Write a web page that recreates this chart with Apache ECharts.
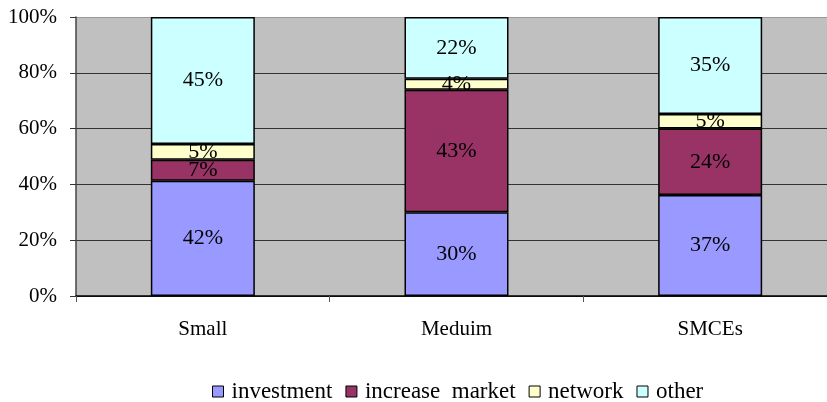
<!DOCTYPE html>
<html>
<head>
<meta charset="utf-8">
<script src="https://cdn.jsdelivr.net/npm/echarts@6/dist/echarts.min.js"></script>
<style>html,body{margin:0;padding:0;background:#fff;}#c{width:827px;height:402px;}</style>
</head>
<body>
<div id="c"></div>
<script>
const categories = ['Small', 'Meduim', 'SMCEs'];
const seriesNames = ['investment', 'increase  market', 'network', 'other'];
const investment = [41.3, 30.0, 36.2];
const increaseMarket = [7.5, 43.9, 23.8];
const network = [5.7, 4.0, 5.2];
const other = [45.5, 22.1, 34.8];
const investmentLabels = ['42%', '30%', '37%'];
const increaseMarketLabels = ['7%', '43%', '24%'];
const networkLabels = ['5%', '4%', '5%'];
const otherLabels = ['45%', '22%', '35%'];
const yTicks = [0, 20, 40, 60, 80, 100];

const colors = ['#9999FF', '#993366', '#FFFFCC', '#CCFFFF'];
const values = [investment, increaseMarket, network, other];
const labels = [investmentLabels, increaseMarketLabels, networkLabels, otherLabels];
const font = 'Liberation Serif, Times New Roman, serif';

const chart = echarts.init(document.getElementById('c'), null, {renderer: 'canvas'});
chart.setOption({
  animation: false,
  color: colors,
  grid: {
    left: 76, width: 761, top: 17, height: 279,
    containLabel: false, outerBoundsMode: 'none',
    show: true, backgroundColor: '#C0C0C0', borderWidth: 0
  },
  legend: {
    left: 207, top: 375,
    itemWidth: 11, itemHeight: 11, itemGap: 13,
    icon: 'rect',
    itemStyle: {borderColor: '#000', borderWidth: 1},
    textStyle: {fontFamily: font, fontSize: 23, color: '#000', padding: [0, 0, 0, 3]},
    data: seriesNames
  },
  xAxis: {
    type: 'category',
    data: categories,
    axisLine: {lineStyle: {color: '#000', width: 1.5}},
    axisTick: {show: true, length: 6, lineStyle: {color: '#555'}},
    axisLabel: {fontFamily: font, fontSize: 21, color: '#000', margin: 23}
  },
  yAxis: {
    type: 'value',
    min: yTicks[0], max: yTicks[yTicks.length - 1], interval: 20,
    axisLine: {show: true, lineStyle: {color: '#444', width: 1.5}},
    axisTick: {show: true, length: 6, lineStyle: {color: '#333'}},
    axisLabel: {fontFamily: font, fontSize: 21, color: '#000', margin: 19, formatter: '{value}%'},
    splitLine: {show: true, lineStyle: {color: ['#333', '#333', '#333', '#333', '#333', '#999'], width: 1}}
  },
  series: seriesNames.map((name, i) => ({
    name: name,
    type: 'bar',
    stack: 'total',
    barWidth: 104,
    data: values[i],
    itemStyle: {color: colors[i], borderColor: '#000', borderWidth: 1.5},
    label: {
      show: true,
      position: 'inside',
      fontFamily: font,
      fontSize: 22,
      color: '#000',
      formatter: p => labels[i][p.dataIndex]
    }
  }))
});
</script>
</body>
</html>
